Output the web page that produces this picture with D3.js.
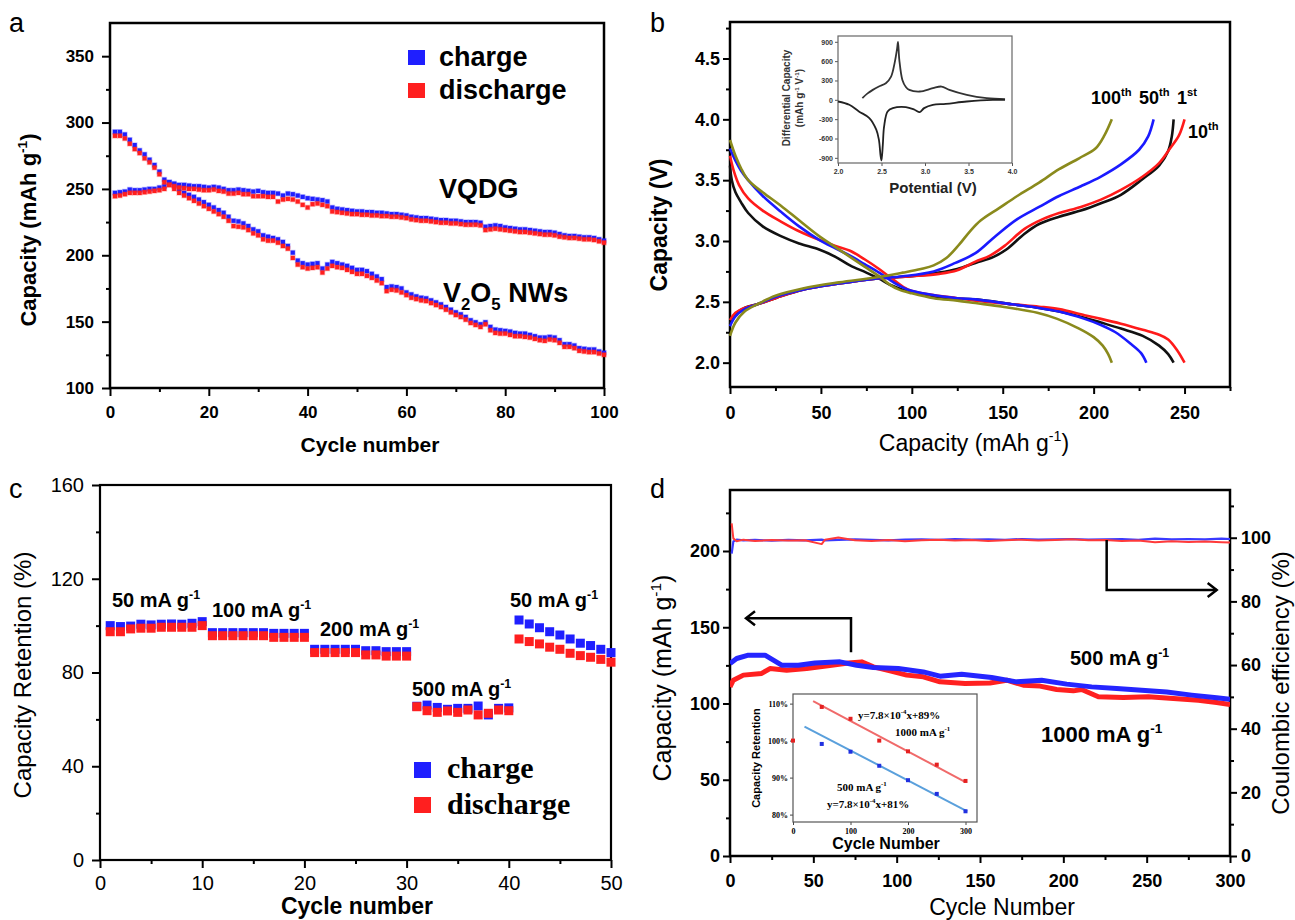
<!DOCTYPE html>
<html>
<head>
<meta charset="utf-8">
<script src="https://cdn.jsdelivr.net/npm/d3@7"></script>
<style>
  body { margin: 0; background: #fff; }
  svg { display: block; }
</style>
</head>
<body>
<svg id="fig" width="1295" height="920"></svg>
<script>
// ---------- panel a : cycling of VQDG vs V2O5 NWs ----------
var vqdgCharge = [247,247.5,248,249.5,249,249,249.5,250,250,251,
  252,255,254,253,253,252.5,252,252,251.5,251,
  251.5,251,250,249,249,249.5,249,248.5,248,248.5,
  247.5,247,247,246.5,245,246.5,246,245,244,243,
  242.5,242,241.5,240.5,236,235,234.5,234,233.5,233,
  233,232.5,232.5,232,232,231.5,231,231,230.5,230,
  229,228.5,228,228,227.5,227,226.5,226.5,226,226,
  225.5,225,225,225,224.5,221.5,222,222.5,222,221,
  220.5,220,219.5,219.5,219,218.5,218,217.5,217.5,217,
  216,215,214.5,214.5,214,213.5,213.5,213,212,211];
var vqdgDischarge = [244.5,245,246,247,247,247,247.5,248,248.5,249,
  250,253,252,251,250.5,250,250,249.5,249,249,
  249.5,248.5,248,246.5,246.5,247,246,246,244.5,244.5,
  244.5,244,244,240.5,242,242.5,242,240.5,238,236,
  238.5,239,238,237,233,232.5,232,231.5,231,231,
  230.5,230.5,230,230,229.5,229.5,229,229,228.5,228,
  227,226.5,226,226,225.5,225,224.5,224.5,224,224,
  223.5,223,223,223,222.5,219,219.5,220,219.5,219,
  218.5,218,217.5,217.5,217,216.5,216,215.5,215.5,215,
  214,213.5,213,213,212.5,212,212,211.5,210.5,209.5];
var nwCharge = [293,293,291,287,283,279,276,272,268,263,
  257,255,253,250,247,245.5,244,242,240,238,
  236,234,232,229,226,225.5,224,222,219.5,218,
  215,214,213,212,210,207,202,196,194,193,
  193.5,194,190,193,195,194,193,192,190.5,189,
  189,188,186,184,182,176,176.5,176,175,172,
  170.5,169,168,167.5,166,164.5,163,161,159,157,
  155.5,153.5,151,149.5,148,149.5,146,144,143.5,143,
  142.5,141.5,141,141,140,139,138,138,138.5,138,
  136,133,133,132,130,129.5,129,129,127.5,126.5];
var nwDischarge = [290,290,288,284,280,277,273,270,266,261,
  255,253,250,247,245,243,241,239,237,235,
  233,231,229,226,222,221.5,221,219,216.5,215,
  212,211,211,209.5,207,205,198,193,191,190,
  190.5,191,187,190,192,191,190.5,189,187.5,186,
  186,184.5,183,181,179,173,174,173.5,172,170,
  168,167,166,165.5,164,162.5,161,159,157,155,
  153.5,151.5,149,147.5,146,148,143.5,141.5,141,141,
  140,139,139,138.5,138,137,136,135.5,136.5,136,
  134,131,131,130,128,127.5,127,127,126,125];

// ---------- panel b : voltage profiles, [capacity, V] ----------
var profileLabels = ['1st', '10th', '50th', '100th'];
var chargeProfiles = [
  [[0,2.32],[3,2.4],[8,2.45],[15,2.48],[25,2.53],[40,2.6],[60,2.65],[80,2.69],[100,2.71],[115,2.74],[125,2.77],[135,2.82],[145,2.87],[152,2.93],[162,3.06],[170,3.14],[181,3.2],[193,3.25],[204,3.31],[215,3.38],[227,3.51],[236,3.62],[241,3.74],[243,3.86],[244,4.0]],
  [[0,2.35],[3,2.41],[8,2.45],[15,2.48],[25,2.53],[40,2.6],[60,2.65],[80,2.69],[100,2.71],[115,2.73],[125,2.76],[135,2.83],[143,2.88],[151,2.96],[162,3.1],[172,3.18],[181,3.23],[193,3.28],[204,3.34],[215,3.42],[227,3.53],[236,3.64],[242,3.76],[247,3.87],[250,4.0]],
  [[0,2.3],[3,2.38],[8,2.44],[15,2.48],[25,2.54],[40,2.6],[60,2.65],[80,2.69],[95,2.71],[112,2.75],[124,2.82],[135,2.9],[146,3.04],[158,3.18],[170,3.28],[181,3.37],[193,3.45],[204,3.53],[215,3.63],[225,3.75],[230,3.86],[233,4.0]],
  [[0,2.22],[3,2.33],[8,2.42],[15,2.48],[25,2.55],[40,2.61],[60,2.66],[80,2.7],[95,2.74],[105,2.77],[112,2.8],[119,2.86],[126,2.97],[132,3.08],[138,3.17],[148,3.27],[158,3.37],[170,3.48],[181,3.59],[192,3.68],[201,3.76],[206,3.87],[210,4.0]]
];
var dischargeProfiles = [
  [[0,3.62],[1,3.5],[3,3.4],[6,3.32],[10,3.23],[18,3.12],[28,3.04],[38,2.98],[49,2.93],[58,2.87],[66,2.8],[75,2.74],[82,2.69],[88,2.64],[95,2.6],[105,2.56],[120,2.53],[135,2.52],[155,2.48],[170,2.45],[181,2.42],[195,2.37],[204,2.33],[215,2.28],[227,2.22],[236,2.14],[241,2.07],[244,2.0]],
  [[0,3.7],[2,3.58],[5,3.46],[10,3.35],[18,3.25],[28,3.16],[38,3.08],[49,3.01],[58,2.96],[66,2.92],[74,2.85],[82,2.77],[90,2.68],[98,2.6],[110,2.56],[125,2.53],[135,2.51],[155,2.48],[170,2.46],[181,2.44],[195,2.39],[204,2.36],[215,2.32],[227,2.27],[236,2.23],[241,2.19],[246,2.1],[250,2.0]],
  [[0,3.76],[3,3.66],[6,3.58],[10,3.5],[18,3.37],[28,3.24],[38,3.12],[49,3.01],[58,2.94],[66,2.88],[74,2.81],[82,2.74],[90,2.66],[98,2.6],[110,2.56],[125,2.53],[135,2.52],[155,2.48],[170,2.45],[181,2.42],[195,2.36],[204,2.31],[212,2.25],[220,2.16],[226,2.08],[229,2.0]],
  [[0,3.83],[3,3.7],[6,3.6],[10,3.5],[18,3.4],[28,3.29],[38,3.17],[49,3.04],[58,2.95],[66,2.87],[74,2.79],[82,2.71],[88,2.64],[93,2.6],[100,2.57],[112,2.53],[125,2.51],[135,2.49],[150,2.46],[169,2.41],[180,2.36],[192,2.28],[200,2.21],[205,2.14],[208,2.07],[210,2.0]]
];
// inset b : differential capacity, [V, dQ/dV]
var dqdvCharge = [[2.28,26],[2.34,100],[2.4,154],[2.47,206],[2.55,257],[2.61,360],[2.65,566],[2.68,800],[2.69,900],[2.7,700],[2.705,617],[2.74,309],[2.78,200],[2.82,154],[2.94,129],[3.09,180],[3.19,206],[3.28,154],[3.48,77],[3.71,26],[3.92,10]];
var dqdvDischarge = [[2.0,-26],[2.13,-77],[2.24,-180],[2.36,-283],[2.44,-463],[2.47,-617],[2.49,-874],[2.5,-940],[2.515,-700],[2.53,-411],[2.57,-180],[2.63,-129],[2.78,-113],[2.88,-154],[2.94,-190],[2.99,-129],[3.09,-77],[3.24,-62],[3.48,-26],[3.78,0],[3.92,0]];

// ---------- panel c : rate capability (%) ----------
var rateCharge = [100.0,99.6,99.8,100.6,100.3,100.6,100.7,100.6,101.0,101.7,
  97.0,97.0,97.0,97.0,97.0,97.0,96.7,96.7,96.7,96.7,
  89.9,89.9,89.9,89.9,89.9,89.3,89.3,88.9,88.9,88.9,
  65.6,66.1,65.1,64.3,64.7,64.7,65.7,61.9,64.7,64.9,
  102.4,100.7,99.1,97.4,96.0,94.3,92.5,91.5,89.9,88.5];
var rateDischarge = [97.4,97.4,98.6,98.9,98.9,99.3,99.3,99.3,99.3,100.0,
  95.7,95.7,95.7,95.7,95.7,95.7,95.0,95.0,95.0,95.0,
  88.5,88.5,88.5,88.5,88.5,87.5,87.5,87.0,87.0,87.0,
  65.4,63.7,63.0,63.6,63.0,64.0,61.9,62.6,64.0,63.7,
  94.3,93.2,92.2,90.8,89.9,88.2,87.2,86.5,85.6,84.4];
var rateLabels = ['50', '100', '200', '500', '50'];

// ---------- panel d : long cycling ----------
var cap500Cycles = [0,4,11,21,26,31,41,51,66,76,86,101,116,126,139,157,172,187,202,217,232,247,262,277,292,300];
var cap500 = [126.2,129.5,131.7,131.7,128.4,125.1,125.1,126.6,127.3,125.1,123.6,122.9,120.7,117.9,119.2,117,114.2,115.3,112.7,110.9,109.8,108.7,107.6,105.5,103.7,102.8];
var cap1000Cycles = [0,2,8,19,24,34,46,61,71,79,86,96,106,116,126,141,156,166,176,186,196,206,211,221,236,251,266,281,292,300];
var cap1000 = [110.9,115.3,118.6,119.7,122.9,121.8,122.9,125.1,126.6,127.3,124,121.4,118.6,117.5,114.2,113.1,113.5,115.3,112,111.4,109.2,108.3,109.2,104.4,103.9,104.4,103.3,102.2,100.7,99.3];
var ceCycles = [1,2,4,8,15,25,35,45,55,57,65,75,85,95,105,115,125,135,145,155,165,175,185,195,205,215,225,235,245,255,265,275,285,295,300];
var ce500 = [95.0,98.8,99.4,99.2,99.3,99.1,99.3,99.2,99.4,99.2,99.3,99.5,99.3,99.2,99.4,99.5,99.3,99.6,99.4,99.5,99.3,99.6,99.4,99.5,99.6,99.4,99.5,99.6,99.3,99.7,99.5,99.6,99.5,99.7,99.6];
var ce1000 = [104.5,99.8,98.9,99.4,99.0,99.3,99.1,99.2,98.0,99.4,100.1,99.2,99.0,99.3,98.9,99.2,99.4,99.1,99.3,99.0,99.2,99.4,99.1,99.3,99.5,99.2,99.3,99.0,99.1,98.6,98.9,98.7,98.8,98.6,98.5];
// arrows: [cycle, value] in axis units
var arrowLeft = [[72.6,133.6],[72.6,155.9],[9.6,155.9]];   // left axis units
var arrowRight = [[226,99.3],[226,83.6],[292,83.6]];      // right axis units
// inset d : capacity retention
var retCycles = [0,50,100,150,200,250,300];
var ret1000 = [100,109.1,105.9,100,97.1,93.5,89.1];
var ret500 = [null,99.1,97,93.2,89.3,85.6,80.9];
var fit1000 = [[35,110.7],[300,88.8]];
var fit500 = [[20,103.8],[303,80.9]];

// ======================================================================
var SANS = '"Liberation Sans", Arial, sans-serif';
var SERIF = '"Liberation Serif", "Times New Roman", serif';
var BLUE = '#1f1fff', RED = '#ff1f1f';

var svg = d3.select('#fig');

function axis(g, gen, scale, pos, major, minor, o) {
  var vert = (gen === d3.axisLeft || gen === d3.axisRight);
  var tr = vert ? 'translate(' + pos + ',0)' : 'translate(0,' + pos + ')';
  var color = o.color || '#000';
  if (minor) {
    var m = g.append('g').attr('transform', tr)
      .call(gen(scale).tickValues(minor).tickSize(o.minor || 4).tickFormat(''));
    m.select('.domain').remove();
    m.selectAll('line').attr('stroke', color).attr('stroke-width', o.sw || 2);
  }
  var a = g.append('g').attr('transform', tr)
    .call(gen(scale).tickValues(major).tickSize(o.size || 7).tickPadding(o.pad || 4)
      .tickFormat(o.fmt || function (d) { return d; }));
  a.attr('font-family', o.family || SANS)
    .attr('font-size', o.fs)
    .attr('font-weight', o.weight || 'bold');
  a.select('.domain').remove();
  a.selectAll('line').attr('stroke', color).attr('stroke-width', o.sw || 2);
  a.selectAll('text').attr('fill', o.textColor || '#000');
  return a;
}

function frame(g, x, y, sw, color) {
  g.append('rect')
    .attr('x', x.range()[0]).attr('y', y.range()[1])
    .attr('width', x.range()[1] - x.range()[0])
    .attr('height', y.range()[0] - y.range()[1])
    .attr('fill', 'none').attr('stroke', color || '#000').attr('stroke-width', sw);
}

// text with sup / sub parts
function rich(g, x, y, parts, fs, o) {
  o = o || {};
  var t = g.append('text').attr('x', x).attr('y', y)
    .attr('font-size', fs)
    .attr('font-family', o.family || SANS)
    .attr('font-weight', o.weight || 'bold')
    .attr('text-anchor', o.anchor || 'start')
    .attr('fill', o.fill || '#000');
  if (o.rotate) t.attr('transform', 'rotate(-90,' + x + ',' + y + ')');
  var shift = 0;
  parts.forEach(function (p) {
    var s = typeof p === 'string' ? p : p[0];
    var k = typeof p === 'string' ? '' : p[1];
    var target = k === 'sup' ? -0.42 * fs : (k === 'sub' ? 0.28 * fs : 0);
    t.append('tspan').attr('dy', target - shift)
      .attr('font-size', k ? fs * 0.62 : fs).text(s);
    shift = target;
  });
  return t;
}

function panelLetter(x, y, s) {
  svg.append('text').attr('x', x).attr('y', y).text(s)
    .attr('font-family', SANS).attr('font-size', 27).attr('fill', '#000');
}

// ----------------------------------------------------------------- a
(function () {
  var g = svg.append('g');
  var x = d3.scaleLinear().domain([0, 100]).range([110, 604]);
  var y = d3.scaleLinear().domain([100, 375]).range([388, 23]);

  axis(g, d3.axisLeft, y, x.range()[0], d3.range(100, 351, 50), [125,175,225,275,325],
    { fs: 17, pad: 8, size: 8 });
  axis(g, d3.axisBottom, x, y.range()[0], d3.range(0, 101, 20), [10,30,50,70,90],
    { fs: 17, pad: 10, size: 8 });
  frame(g, x, y, 2.5);

  function markers(vals, color) {
    g.append('g').selectAll('rect').data(vals).join('rect')
      .attr('x', function (d, i) { return x(i + 1) - 2.1; })
      .attr('y', function (d) { return y(d) - 2.1; })
      .attr('width', 4.2).attr('height', 4.2)
      .attr('fill', color)
      .attr('stroke', color).attr('stroke-opacity', 0.28).attr('stroke-width', 1.4);
  }
  markers(vqdgCharge, BLUE);
  markers(nwCharge, BLUE);
  markers(vqdgDischarge, RED);
  markers(nwDischarge, RED);

  // legend
  g.append('rect').attr('x', 408).attr('y', 50).attr('width', 17).attr('height', 15).attr('fill', BLUE);
  g.append('rect').attr('x', 408).attr('y', 83).attr('width', 17).attr('height', 15).attr('fill', RED);
  rich(g, 439, 66, ['charge'], 27);
  rich(g, 439, 99, ['discharge'], 27);

  rich(g, 439, 198, ['VQDG'], 27);
  rich(g, 443, 302, ['V', ['2', 'sub'], 'O', ['5', 'sub'], ' NWs'], 27);

  rich(g, 370, 452, ['Cycle number'], 21, { anchor: 'middle' });
  rich(g, 36, 230, ['Capacity (mAh g', ['-1', 'sup'], ')'], 22, { anchor: 'middle', rotate: true });
  panelLetter(9, 32, 'a');
})();

// ----------------------------------------------------------------- b
(function () {
  var g = svg.append('g');
  var x = d3.scaleLinear().domain([0, 275]).range([730, 1230]);
  var y = d3.scaleLinear().domain([1.8, 4.8]).range([387, 22]);

  axis(g, d3.axisLeft, y, x.range()[0], [2, 2.5, 3, 3.5, 4, 4.5], [2.25,2.75,3.25,3.75,4.25,4.75],
    { fs: 18, pad: 3, size: 7, fmt: d3.format('.1f') });
  axis(g, d3.axisBottom, x, y.range()[0], d3.range(0, 251, 50), [25,75,125,175,225,275],
    { fs: 18, pad: 12, size: 7 });
  frame(g, x, y, 2.5);

  var colors = ['#111111', '#ff1a1a', '#1a1aff', '#8a8a1c'];
  var line = d3.line().x(function (d) { return x(d[0]); }).y(function (d) { return y(d[1]); })
    .curve(d3.curveCatmullRom);
  [0, 1, 2, 3].forEach(function (i) {
    g.append('path').attr('d', line(dischargeProfiles[i]))
      .attr('fill', 'none').attr('stroke', colors[i]).attr('stroke-width', 2.6);
    g.append('path').attr('d', line(chargeProfiles[i]))
      .attr('fill', 'none').attr('stroke', colors[i]).attr('stroke-width', 2.6);
  });

  // cycle labels
  function lab(xp, yp, s) {
    var num = s.replace(/[a-z]+/, ''), suf = s.replace(/[0-9]+/, '');
    rich(g, xp, yp, [num, [suf, 'sup']], 18);
  }
  lab(1091, 104, profileLabels[3]);
  lab(1139, 104, profileLabels[2]);
  lab(1177, 104, profileLabels[0]);
  lab(1188, 138, profileLabels[1]);

  rich(g, 974, 451, ['Capacity (mAh g', ['-1', 'sup'], ')'], 23, { anchor: 'middle', weight: 'normal' });
  rich(g, 667, 225, ['Capacity (V)'], 23, { anchor: 'middle', rotate: true });
  panelLetter(650, 32, 'b');

  // inset
  var ix = d3.scaleLinear().domain([2, 4]).range([838, 1012]);
  var iy = d3.scaleLinear().domain([-980, 990]).range([163, 36]);
  g.append('rect').attr('x', 838).attr('y', 36).attr('width', 174).attr('height', 127).attr('fill', '#fff');
  axis(g, d3.axisLeft, iy, ix.range()[0], d3.range(-900, 901, 300), null,
    { fs: 7, pad: 2, size: 3, sw: 1, color: '#555', textColor: '#333' });
  axis(g, d3.axisBottom, ix, iy.range()[0], [2, 2.5, 3, 3.5, 4], null,
    { fs: 7, pad: 3, size: 3, sw: 1, color: '#555', textColor: '#333', fmt: d3.format('.1f') });
  frame(g, ix, iy, 1.2, '#666');
  var iline = d3.line().x(function (d) { return ix(d[0]); }).y(function (d) { return iy(d[1]); })
    .curve(d3.curveCatmullRom);
  g.append('path').attr('d', iline(dqdvCharge)).attr('fill', 'none').attr('stroke', '#333').attr('stroke-width', 1.8);
  g.append('path').attr('d', iline(dqdvDischarge)).attr('fill', 'none').attr('stroke', '#222').attr('stroke-width', 1.8);
  rich(g, 933, 193, ['Potential (V)'], 15, { anchor: 'middle', fill: '#222' });
  rich(g, 790, 98, ['Differential Capacity'], 10, { anchor: 'middle', rotate: true, fill: '#333' });
  rich(g, 803, 98, ['(mAh g', ['-1', 'sup'], ' V', ['-1', 'sup'], ')'], 10, { anchor: 'middle', rotate: true, fill: '#333' });
})();

// ----------------------------------------------------------------- c
(function () {
  var g = svg.append('g');
  var x = d3.scaleLinear().domain([0, 50]).range([100, 611]);
  var y = d3.scaleLinear().domain([0, 160]).range([860, 485]);

  axis(g, d3.axisLeft, y, x.range()[0], d3.range(0, 161, 40), [20, 60, 100, 140],
    { fs: 20, pad: 8, size: 8, weight: 'normal' });
  axis(g, d3.axisBottom, x, y.range()[0], d3.range(0, 51, 10), [5, 15, 25, 35, 45],
    { fs: 20, pad: 8, size: 8, weight: 'normal' });
  frame(g, x, y, 2.2);

  function markers(vals, color) {
    g.append('g').selectAll('rect').data(vals).join('rect')
      .attr('x', function (d, i) { return x(i + 1) - 4.5; })
      .attr('y', function (d) { return y(d) - 4.5; })
      .attr('width', 9).attr('height', 9).attr('fill', color);
  }
  markers(rateCharge, BLUE);
  markers(rateDischarge, RED);

  var labPos = [[112, 607], [212, 617], [320, 636], [412, 696], [510, 607]];
  rateLabels.forEach(function (r, i) {
    rich(g, labPos[i][0], labPos[i][1], [r + ' mA g', ['-1', 'sup']], 20);
  });

  g.append('rect').attr('x', 414).attr('y', 762).attr('width', 17).attr('height', 16).attr('fill', BLUE);
  g.append('rect').attr('x', 414).attr('y', 797).attr('width', 17).attr('height', 16).attr('fill', RED);
  rich(g, 447, 778, ['charge'], 30, { family: SERIF });
  rich(g, 447, 814, ['discharge'], 30, { family: SERIF });

  rich(g, 357, 914, ['Cycle number'], 23, { anchor: 'middle' });
  rich(g, 31, 675, ['Capacity Retention (%)'], 24, { anchor: 'middle', rotate: true, weight: 'normal' });
  panelLetter(9, 498, 'c');
})();

// ----------------------------------------------------------------- d
(function () {
  var g = svg.append('g');
  var x = d3.scaleLinear().domain([0, 300]).range([730, 1230]);
  var yL = d3.scaleLinear().domain([0, 240]).range([856, 490]);
  var yR = d3.scaleLinear().domain([0, 115]).range([856, 490]);

  axis(g, d3.axisLeft, yL, x.range()[0], d3.range(0, 201, 50), [25,75,125,175,225],
    { fs: 18, pad: 3, size: 7 });
  axis(g, d3.axisRight, yR, x.range()[1], d3.range(0, 101, 20), [10,30,50,70,90,110],
    { fs: 18, pad: 4, size: 7 });
  axis(g, d3.axisBottom, x, yL.range()[0], d3.range(0, 301, 50), [25,75,125,175,225,275],
    { fs: 18, pad: 11, size: 7 });
  frame(g, x, yL, 2.5);

  g.append('clipPath').attr('id', 'clipD').append('rect')
    .attr('x', 730).attr('y', 490).attr('width', 500).attr('height', 366);
  var plot = g.append('g').attr('clip-path', 'url(#clipD)');

  function series(cyc, vals, scale, color, w) {
    var pts = cyc.map(function (c, i) { return [c, vals[i]]; });
    var ln = d3.line().x(function (d) { return x(d[0]); }).y(function (d) { return scale(d[1]); });
    plot.append('path').attr('d', ln(pts)).attr('fill', 'none')
      .attr('stroke', color).attr('stroke-width', w).attr('stroke-linejoin', 'round');
  }
  series(ceCycles, ce500, yR, '#3a3aff', 2.2);
  series(ceCycles, ce1000, yR, '#ff3a3a', 2);
  series(cap1000Cycles, cap1000, yL, '#ff2020', 5);
  series(cap500Cycles, cap500, yL, '#2525ff', 5);

  // arrows
  var aL = arrowLeft.map(function (p) { return [x(p[0]), yL(p[1])]; });
  g.append('path').attr('d', d3.line()(aL)).attr('fill', 'none').attr('stroke', '#000').attr('stroke-width', 2.5);
  var tL = aL[2];
  g.append('path').attr('d', d3.line()([[tL[0] + 9, tL[1] - 7], tL, [tL[0] + 9, tL[1] + 7]]))
    .attr('fill', 'none').attr('stroke', '#000').attr('stroke-width', 2.5);
  var aR = arrowRight.map(function (p) { return [x(p[0]), yR(p[1])]; });
  g.append('path').attr('d', d3.line()(aR)).attr('fill', 'none').attr('stroke', '#000').attr('stroke-width', 2.5);
  var tR = aR[2];
  g.append('path').attr('d', d3.line()([[tR[0] - 9, tR[1] - 7], tR, [tR[0] - 9, tR[1] + 7]]))
    .attr('fill', 'none').attr('stroke', '#000').attr('stroke-width', 2.5);

  rich(g, 1070, 665, ['500 mA g', ['-1', 'sup']], 20);
  rich(g, 1041, 742, ['1000 mA g', ['-1', 'sup']], 22);

  rich(g, 1002, 915, ['Cycle Number'], 23, { anchor: 'middle', weight: 'normal' });
  rich(g, 671, 678, ['Capacity (mAh g', ['-1', 'sup'], ')'], 25, { anchor: 'middle', rotate: true, weight: 'normal' });
  rich(g, 1289, 683, ['Coulombic efficiency (%)'], 24, { anchor: 'middle', rotate: true, weight: 'normal' });
  panelLetter(650, 498, 'd');

  // inset
  var ix = d3.scaleLinear().domain([0, 320]).range([793, 977]);
  var iy = d3.scaleLinear().domain([78, 112.6]).range([822, 694]);
  g.append('rect').attr('x', 793).attr('y', 694).attr('width', 184).attr('height', 128).attr('fill', '#fff');
  axis(g, d3.axisLeft, iy, ix.range()[0], [80, 90, 100, 110], null,
    { fs: 8, pad: 2, size: 3, sw: 1, color: '#444', family: SERIF, fmt: function (d) { return d + '%'; } });
  axis(g, d3.axisBottom, ix, iy.range()[0], [0, 100, 200, 300], null,
    { fs: 8, pad: 3, size: 3, sw: 1, color: '#444', family: SERIF });
  frame(g, ix, iy, 1.2, '#555');
  var fl = d3.line().x(function (d) { return ix(d[0]); }).y(function (d) { return iy(d[1]); });
  g.append('path').attr('d', fl(fit1000)).attr('stroke', '#f06a6a').attr('stroke-width', 2).attr('fill', 'none');
  g.append('path').attr('d', fl(fit500)).attr('stroke', '#5aa0dc').attr('stroke-width', 2).attr('fill', 'none');
  g.append('g').selectAll('rect').data(retCycles.map(function (c, i) { return [c, ret1000[i]]; }))
    .join('rect').attr('x', function (d) { return ix(d[0]) - 2; }).attr('y', function (d) { return iy(d[1]) - 2; })
    .attr('width', 4).attr('height', 4).attr('fill', '#e52020');
  g.append('g').selectAll('rect').data(retCycles.map(function (c, i) { return [c, ret500[i]]; })
      .filter(function (d) { return d[1] != null; }))
    .join('rect').attr('x', function (d) { return ix(d[0]) - 2; }).attr('y', function (d) { return iy(d[1]) - 2; })
    .attr('width', 4).attr('height', 4).attr('fill', '#2030e0');

  var eq = { family: SERIF };
  rich(g, 858, 719, ['y=7.8\u00d710', ['-4', 'sup'], 'x+89%'], 11, eq);
  rich(g, 895, 736, ['1000 mA g', ['-1', 'sup']], 11, eq);
  rich(g, 837, 791, ['500 mA g', ['-1', 'sup']], 11, eq);
  rich(g, 827, 808, ['y=7.8\u00d710', ['-4', 'sup'], 'x+81%'], 11, eq);
  rich(g, 886, 849, ['Cycle Number'], 16, { anchor: 'middle' });
  rich(g, 760, 758, ['Capacity Retention'], 11, { anchor: 'middle', rotate: true });
})();
</script>
</body>
</html>
